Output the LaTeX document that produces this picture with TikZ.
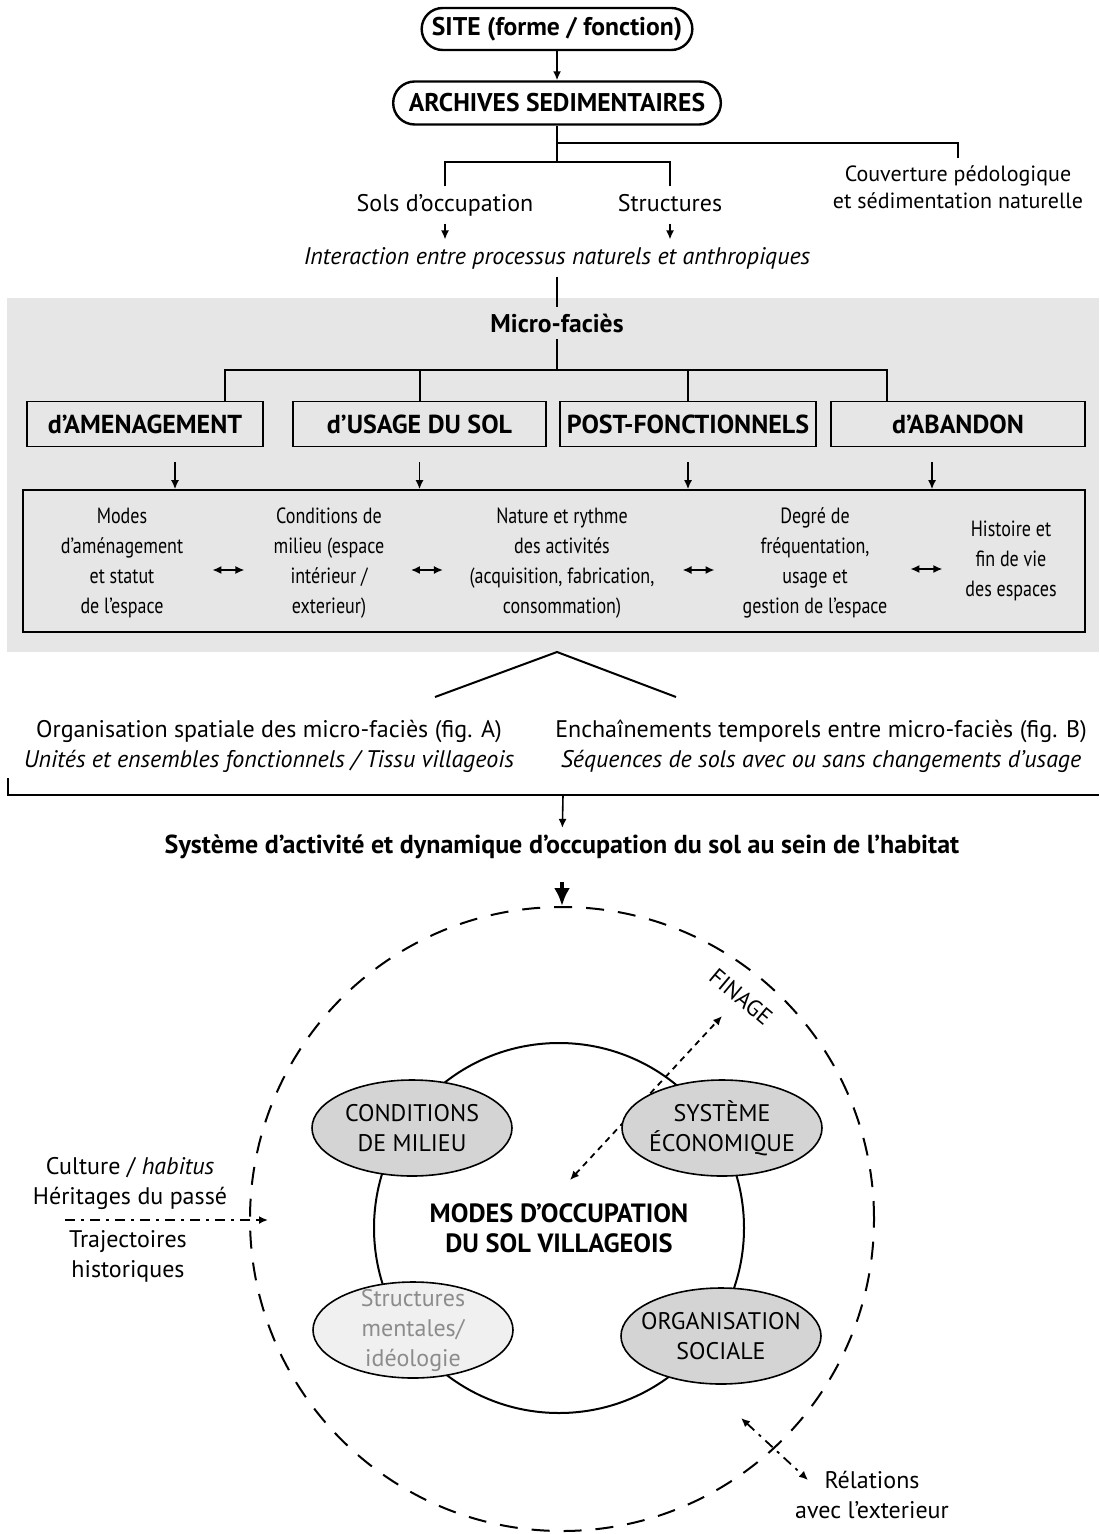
\documentclass[tikz,border=0pt]{standalone}
\usepackage{fontspec}
\setmainfont{PT Sans}
\newfontfamily\condfont[FakeStretch=0.82]{PT Sans}
\usetikzlibrary{shapes.misc,shapes.geometric,arrows.meta,calc}

\definecolor{panelgrey}{HTML}{E6E6E6}
\definecolor{ovalgrey}{HTML}{D4D4D4}
\definecolor{palegrey}{HTML}{F0F0F0}
\definecolor{textgrey}{HTML}{8C8C8C}

\tikzset{
  line/.style={line width=1pt},
  arr/.style={line width=0.8pt,-{Latex[length=4.5pt,width=4pt]}},
  dbl/.style={line width=0.8pt,{Latex[length=4.5pt,width=4pt]}-{Latex[length=4.5pt,width=4pt]}},
  bigarr/.style={line width=1.8pt,-{Latex[length=9pt,width=8pt]}},
  dotarr/.style={line width=0.9pt,dash pattern=on 3pt off 2.5pt,{Latex[length=4.5pt,width=4pt]}-{Latex[length=4.5pt,width=4pt]}},
  dashdot/.style={line width=0.9pt,dash pattern=on 5pt off 3pt on 1.5pt off 3pt},
  pill/.style={rounded rectangle, draw, line width=1.2pt, font=\bfseries\fontsize{12.8}{15}\selectfont},
  catbox/.style={draw, line width=0.8pt, minimum height=22.5pt, fill=panelgrey, font=\bfseries\fontsize{13}{15}\selectfont},
  cell/.style={align=center, font=\condfont\fontsize{11}{15}\selectfont},
  txt/.style={font=\fontsize{12}{15}\selectfont, align=center},
  strut/.style={text height=1.8ex, text depth=0.5ex},
  oval/.style={ellipse, draw, line width=0.8pt, fill=ovalgrey, minimum width=100pt, minimum height=48pt, inner sep=0pt},
  ovaltext/.style={align=center, font=\fontsize{12}{15}\selectfont},
}

\begin{document}
\begin{tikzpicture}[x=0.5pt,y=-0.5pt]
\useasboundingbox (0,0) rectangle (1099,1534);
% site and archives
\node[pill, minimum width=142pt, minimum height=21pt] (site) at (557,29) {SITE (forme / fonction)};
\node[pill, minimum width=170.5pt, minimum height=21.5pt] (arch) at (557,103) {ARCHIVES SEDIMENTAIRES};
\draw[arr] (site) -- (arch);
\node[txt, strut] (sols) at (445,205) {Sols d’occupation};
\node[txt, strut] (struc) at (670,205) {Structures};
\node[txt, font=\fontsize{11}{13.5}\selectfont] (couv) at (958,187) {Couverture pédologique\\et sédimentation naturelle};
\node[txt, strut, font=\itshape\fontsize{12}{15}\selectfont] (inter) at (557,258) {Interaction entre processus naturels et anthropiques};
\coordinate (j1) at (557,143);
\coordinate (j2) at (557,162);
\draw[line] (arch.south) -- (j2);
\draw[line] (j1) -| (couv.north);
\draw[line] (sols.north) |- (j2) -| (struc.north);
\draw[arr] (sols.south) -- (sols.south |- inter.north);
\draw[arr] (struc.south) -- (struc.south |- inter.north);

% micro-facies panel
\fill[panelgrey] (7,298) rectangle (1099,652);
\node[font=\bfseries\fontsize{12.8}{15}\selectfont] (micro) at (557,323) {Micro-faciès};
\draw[line] (inter) -- (micro);
\node[catbox, minimum width=118pt] (b1) at (145,424) {d’AMENAGEMENT};
\node[catbox, minimum width=126.5pt] (b2) at (419.5,424) {d’USAGE DU SOL};
\node[catbox, minimum width=125pt] (b3) at (688,424) {POST-FONCTIONNELS};
\node[catbox, minimum width=127pt] (b4) at (958,424) {d’ABANDON};
\coordinate (mf) at (557,370);
\draw[line] (micro) -- (mf);
\draw[line] ($(b1.north)+(80,0)$) |- (mf) -| ($(b4.north)+(-71,0)$);
\draw[line] (b2.north) |- (mf);
\draw[line] (b3.north) |- (mf);
\node[draw, line width=0.8pt, minimum width=531pt, minimum height=71pt] (faces) at (554,561) {};
\foreach \b/\dx/\i in {b1/30/1,b2/0/2,b3/0/3,b4/-26/4} {
  \coordinate (a\i) at ($(\b.south)+(\dx,15)$);
  \draw[arr] (a\i) -- (a\i |- faces.north);
}
\node[cell] (c1) at (122,563) {Modes\\d’aménagement\\et statut\\de l’espace};
\node[cell] (c2) at (329,563) {Conditions de\\milieu (espace\\intérieur /\\exterieur)};
\node[cell] (c3) at (562,563) {Nature et rythme\\des activités\\(acquisition, fabrication,\\consommation)};
\node[cell] (c4) at (815,563) {Degré de\\fréquentation,\\usage et\\gestion de l’espace};
\node[cell] (c5) at (1011,561) {Histoire et\\fin de vie\\des espaces};
\foreach \l/\r in {c1/c2,c2/c3,c3/c4,c4/c5}
  \draw[dbl] ($(\l.east)!0.5!(\r.west)+(-16,7)$) -- ++(32,0);

% spatial and temporal readings
\coordinate (apex) at (557,652);
\coordinate (legA) at (435,697);
\coordinate (legB) at (676,697);
\draw[line] (legA) -- (apex) -- (legB);
\node[txt, strut] (orgA) at (269,731) {Organisation spatiale des micro-faciès (fig. A)};
\node[txt, strut, font=\itshape\fontsize{12}{15}\selectfont] (unitA) at (269,761) {Unités et ensembles fonctionnels / Tissu villageois};
\node[txt, strut] (enchB) at (821,731) {Enchaînements temporels entre micro-faciès (fig. B)};
\node[txt, strut, font=\itshape\fontsize{12}{15}\selectfont] (seqB) at (821,761) {Séquences de sols avec ou sans changements d’usage};
\coordinate (brL) at (8,778);
\coordinate (brR) at (1099,795);
\coordinate (brM) at (563,795);
\draw[line] (brL) |- (brR);
\node[font=\bfseries\fontsize{13}{15}\selectfont] (sys) at (562,847) {Système d’activité et dynamique d’occupation du sol au sein de l’habitat};
\draw[arr] (brM) -- (sys);

% village land use
\node[circle, draw, line width=1pt, dash pattern=on 9pt off 7pt, minimum size=312pt, inner sep=0pt] (finage) at (562,1219) {};
\draw[bigarr, shorten <=8pt] (sys) -- (finage.north);
\node[rotate=-40, font=\fontsize{11.5}{12}\selectfont] (finT) at (741,997) {FINAGE};
\node[circle, draw, line width=1pt, minimum size=185pt, align=center, font=\bfseries\fontsize{13.2}{15}\selectfont] (modes) at (559,1228) {MODES D’OCCUPATION\\DU SOL VILLAGEOIS};
\coordinate (ecoIn) at (570,1180);
\coordinate (ecoOut) at (722,1016);
\draw[dotarr] (ecoIn) -- (ecoOut);
\node[oval, label={[ovaltext]center:CONDITIONS\\DE MILIEU}] (cond) at (412,1128) {};
\node[oval, label={[ovaltext]center:SYSTÈME\\ÉCONOMIQUE}] (eco) at (722,1128) {};
\node[oval, fill=palegrey, label={[ovaltext, text=textgrey]center:Structures\\mentales/\\idéologie}] (ment) at (413,1330) {};
\node[oval, label={[ovaltext]center:ORGANISATION\\SOCIALE}] (soc) at (721,1336) {};

% outside influences
\node[txt] (hist) at (130,1183) {Culture / \textit{habitus}\\Héritages du passé};
\node[txt] (traj) at (128,1256) {Trajectoires\\historiques};
\coordinate (histS) at (65,1220);
\coordinate (histE) at (268,1220);
\draw[dashdot, -{Latex[length=4.5pt,width=4pt]}] (histS) -- (histE);
\coordinate (relIn) at (741,1418);
\coordinate (relOut) at (808,1480);
\draw[dashdot, {Latex[length=4.5pt,width=4pt]}-{Latex[length=4.5pt,width=4pt]}] (relIn) -- (relOut);
\node[txt] (rel) at (872,1495) {Rélations\\avec l’exterieur};
\end{tikzpicture}
\end{document}
